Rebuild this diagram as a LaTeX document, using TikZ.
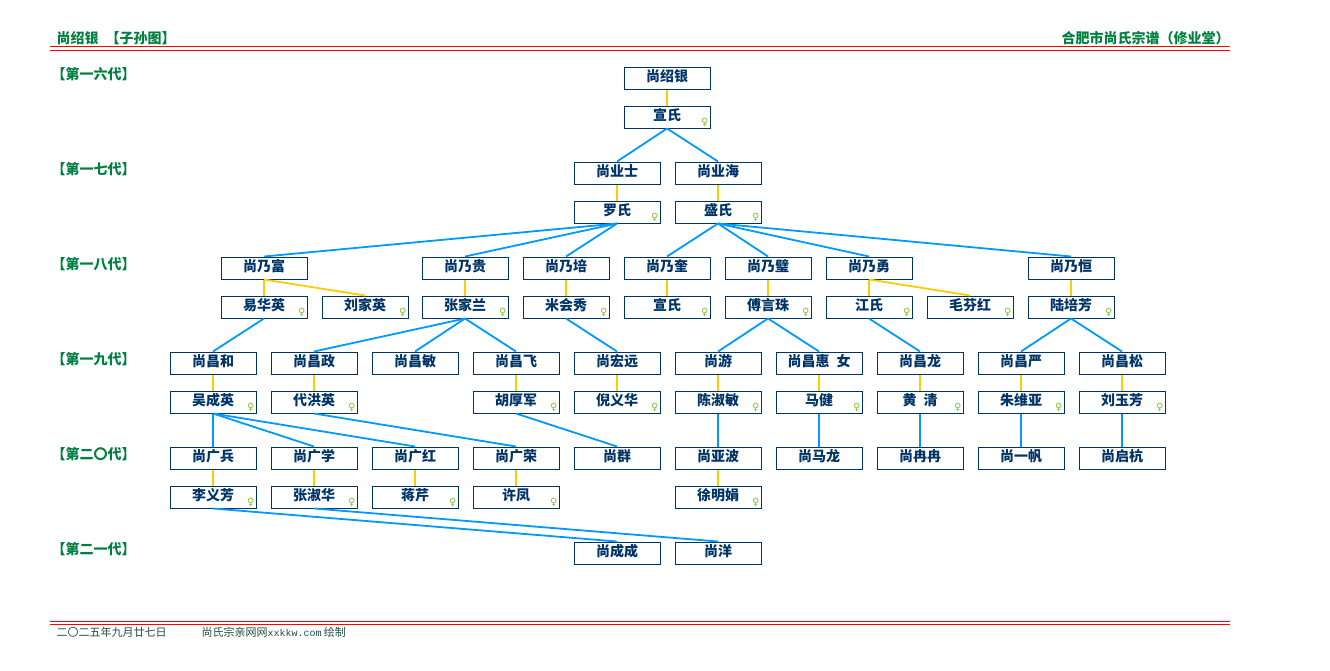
\documentclass[tikz,border=0pt]{standalone}
\usepackage{fontspec}
\setmainfont{Noto Sans CJK SC}
\newfontfamily\symfont{DejaVu Sans}
\newfontfamily\urlfont{Liberation Mono}
\definecolor{navy}{RGB}{0,51,102}
\definecolor{pgreen}{RGB}{0,128,64}
\definecolor{gold}{RGB}{255,204,0}
\definecolor{skyline}{RGB}{0,153,255}
\definecolor{fgreen}{RGB}{130,190,50}
\definecolor{footgreen}{RGB}{30,80,60}

\begin{document}
\begin{tikzpicture}
  [x=1pt,y=-1pt,
   every node/.style={draw=navy,line width=1pt,minimum width=86pt,minimum height=22pt,inner sep=0pt,
     text height=12pt,text depth=5pt,text=navy,font=\fontsize{14}{14}\selectfont\bfseries},
   wife/.style={label={[draw=none,minimum size=0pt,text height=,text depth=,inner sep=1.5pt,anchor=south east,
     text=fgreen,font=\symfont\fontsize{10}{10}\selectfont]south east:♀}},
   gen/.style={draw=none,minimum size=0pt,text height=,text depth=,anchor=west,text=pgreen},
   foot/.style={draw=none,minimum size=0pt,text height=,text depth=,anchor=west,text=footgreen,
     font=\fontsize{11}{11}\selectfont},
   marry/.style={draw=gold,line width=1.8pt},
   child/.style={draw=skyline,line width=1.8pt}]
  \useasboundingbox (0,0) rectangle (1330,670);

  % header and footer
  \node[gen] (T_L) at (56,38) {尚绍银\hspace{7pt}【子孙图】};
  \node[gen,anchor=east] (T_R) at (1230,38) {合肥市尚氏宗谱（修业堂）};
  \draw[red,line width=1pt] (50,46.7) -- (1230,46.7) (50,50) -- (1230,50);
  \draw[red,line width=1pt] (50,621) -- (1230,621) (50,624) -- (1230,624);
  \node[foot] (F_1) at (56,632) {二〇二五年九月廿七日};
  \node[foot] (F_2) at (201,632) {尚氏宗亲网网{\urlfont\fontsize{10}{10}\selectfont xxkkw.com} 绘制};

  % generations
  \node[gen] (L_16) at (51,74) {【第一六代】};
  \node[gen] (L_17) at (51,169) {【第一七代】};
  \node[gen] (L_18) at (51,264) {【第一八代】};
  \node[gen] (L_19) at (51,359) {【第一九代】};
  \node[gen] (L_20) at (51,454) {【第二〇代】};
  \node[gen] (L_21) at (51,549) {【第二一代】};

  \node (M_1) at (667,78) {尚绍银};
  \node[wife] (W_1) at (667,117) {宣氏};

  \node (M_2) at (617,173) {尚业士};
  \node[wife] (W_2) at (617,212) {罗氏};
  \node (M_3) at (718,173) {尚业海};
  \node[wife] (W_3) at (718,212) {盛氏};

  \node (M_4) at (264,268) {尚乃富};
  \node[wife] (W_4a) at (264,307) {易华英};
  \node[wife] (W_4b) at (365,307) {刘家英};
  \node (M_5) at (465,268) {尚乃贵};
  \node[wife] (W_5) at (465,307) {张家兰};
  \node (M_6) at (566,268) {尚乃培};
  \node[wife] (W_6) at (566,307) {米会秀};
  \node (M_7) at (667,268) {尚乃奎};
  \node[wife] (W_7) at (667,307) {宣氏};
  \node (M_8) at (768,268) {尚乃璧};
  \node[wife] (W_8) at (768,307) {傅言珠};
  \node (M_9) at (869,268) {尚乃勇};
  \node[wife] (W_9a) at (869,307) {江氏};
  \node[wife] (W_9b) at (970,307) {毛芬红};
  \node (M_10) at (1071,268) {尚乃恒};
  \node[wife] (W_10) at (1071,307) {陆培芳};

  \node (M_11) at (213,363) {尚昌和};
  \node[wife] (W_11) at (213,402) {吴成英};
  \node (M_12) at (314,363) {尚昌政};
  \node[wife] (W_12) at (314,402) {代洪英};
  \node (M_13) at (415,363) {尚昌敏};
  \node (M_14) at (516,363) {尚昌飞};
  \node[wife] (W_14) at (516,402) {胡厚军};
  \node (M_15) at (617,363) {尚宏远};
  \node[wife] (W_15) at (617,402) {倪义华};
  \node (M_16) at (718,363) {尚游};
  \node[wife] (W_16) at (718,402) {陈淑敏};
  \node (M_17) at (819,363) {尚昌惠\hspace{7pt}女};
  \node[wife] (W_17) at (819,402) {马健};
  \node (M_18) at (920,363) {尚昌龙};
  \node[wife] (W_18) at (920,402) {黄\hspace{7pt}清};
  \node (M_19) at (1021,363) {尚昌严};
  \node[wife] (W_19) at (1021,402) {朱维亚};
  \node (M_20) at (1122,363) {尚昌松};
  \node[wife] (W_20) at (1122,402) {刘玉芳};

  \node (M_21) at (213,458) {尚广兵};
  \node[wife] (W_21) at (213,497) {李义芳};
  \node (M_22) at (314,458) {尚广学};
  \node[wife] (W_22) at (314,497) {张淑华};
  \node (M_23) at (415,458) {尚广红};
  \node[wife] (W_23) at (415,497) {蒋芹};
  \node (M_24) at (516,458) {尚广荣};
  \node[wife] (W_24) at (516,497) {许凤};
  \node (M_25) at (617,458) {尚群};
  \node (M_26) at (718,458) {尚亚波};
  \node[wife] (W_26) at (718,497) {徐明娟};
  \node (M_27) at (819,458) {尚马龙};
  \node (M_28) at (920,458) {尚冉冉};
  \node (M_29) at (1021,458) {尚一帆};
  \node (M_30) at (1122,458) {尚启杭};

  \node (M_31) at (617,553) {尚成成};
  \node (M_32) at (718,553) {尚洋};

  \foreach \from/\to in {M_1/W_1,M_2/W_2,M_3/W_3,M_4/W_4a,M_4/W_4b,M_5/W_5,M_6/W_6,M_7/W_7,M_8/W_8,M_9/W_9a,M_9/W_9b,M_10/W_10,
    M_11/W_11,M_12/W_12,M_14/W_14,M_15/W_15,M_16/W_16,M_17/W_17,M_18/W_18,M_19/W_19,M_20/W_20,
    M_21/W_21,M_22/W_22,M_23/W_23,M_24/W_24,M_26/W_26}
    \draw[marry] (\from.south) -- (\to.north);

  \foreach \from/\to in {W_1/M_2,W_1/M_3,W_2/M_4,W_2/M_5,W_2/M_6,W_3/M_7,W_3/M_8,W_3/M_9,W_3/M_10,
    W_4a/M_11,W_5/M_12,W_5/M_13,W_5/M_14,W_6/M_15,W_8/M_16,W_8/M_17,W_9a/M_18,W_10/M_19,W_10/M_20,
    W_11/M_21,W_11/M_22,W_11/M_23,W_12/M_24,W_14/M_25,W_16/M_26,W_17/M_27,W_18/M_28,W_19/M_29,W_20/M_30,
    W_21/M_31,W_22/M_32}
    \draw[child] (\from.south) -- (\to.north);

\end{tikzpicture}
\end{document}
